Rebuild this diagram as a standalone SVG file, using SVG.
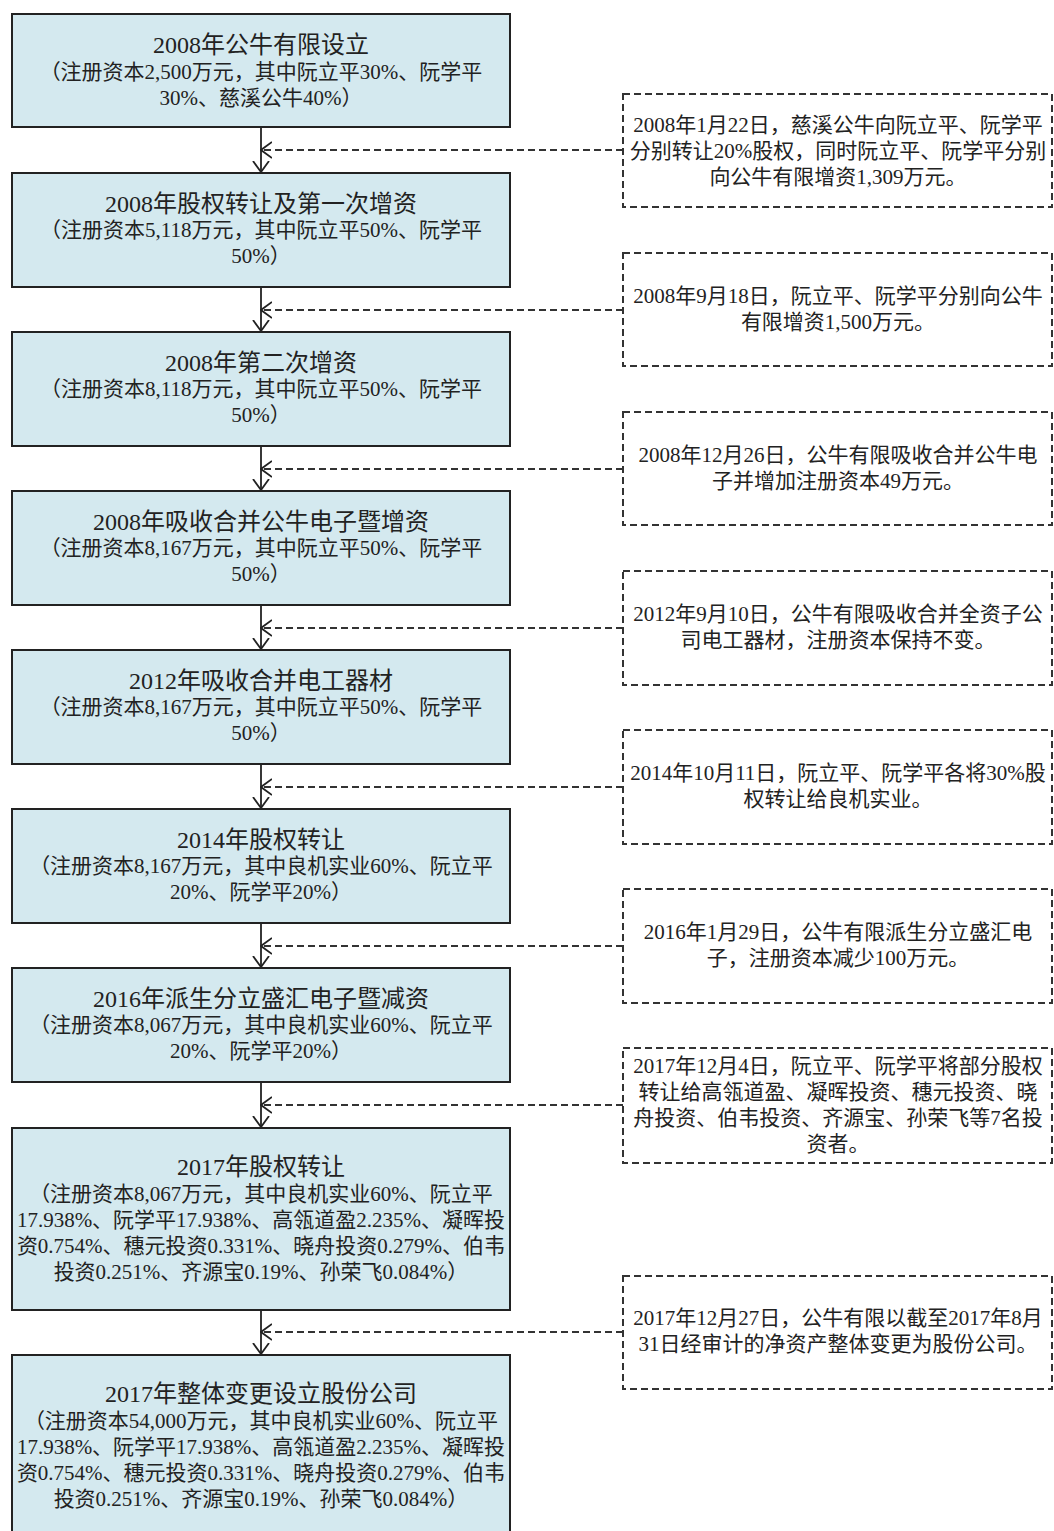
<svg xmlns="http://www.w3.org/2000/svg" width="1054" height="1531" viewBox="0 0 1054 1531">
<style>
.box{fill:#d4e9ef;stroke:#222;stroke-width:2}
.note{fill:#fff;stroke:#333;stroke-width:2;stroke-dasharray:7 4}
.t{font-family:"Liberation Serif","Noto Sans CJK SC",serif;fill:#222;text-anchor:middle}
.h{font-size:24px}
.b{font-size:21px}
.n{font-size:21px}
.v{stroke:#222;stroke-width:1.8;fill:none;marker-end:url(#ah)}
.d{stroke:#333;stroke-width:1.8;fill:none;stroke-dasharray:7 4;marker-end:url(#ah)}
</style>
<defs>
<marker id="ah" viewBox="0 0 12 18" refX="11" refY="9" markerWidth="12" markerHeight="18" markerUnits="userSpaceOnUse" orient="auto">
<path d="M0,1 L11,9 L0,17" fill="none" stroke="#222" stroke-width="1.8"/>
</marker>
</defs>
<rect width="1054" height="1531" fill="#fff"/>

<g id="connectors">
<path class="v" d="M261,127 V172"/>
<path class="v" d="M261,287 V331"/>
<path class="v" d="M261,446 V490"/>
<path class="v" d="M261,605 V649"/>
<path class="v" d="M261,764 V808"/>
<path class="v" d="M261,923 V967"/>
<path class="v" d="M261,1082 V1127"/>
<path class="v" d="M261,1310 V1354"/>
<path class="d" d="M623,150 H261"/>
<path class="d" d="M623,310 H261"/>
<path class="d" d="M623,469 H261"/>
<path class="d" d="M623,628 H261"/>
<path class="d" d="M623,787 H261"/>
<path class="d" d="M623,946 H261"/>
<path class="d" d="M623,1105 H261"/>
<path class="d" d="M623,1332 H261"/>
</g>

<g id="n1">
<rect class="box" x="12" y="14" width="498" height="113"/>
<text class="t h" x="261" y="53">2008年公牛有限设立</text>
<text class="t b" x="261" y="79">（注册资本2,500万元，其中阮立平30%、阮学平</text>
<text class="t b" x="261" y="105">30%、慈溪公牛40%）</text>
</g>
<g id="n2">
<rect class="box" x="12" y="173" width="498" height="114"/>
<text class="t h" x="261" y="212">2008年股权转让及第一次增资</text>
<text class="t b" x="261" y="237">（注册资本5,118万元，其中阮立平50%、阮学平</text>
<text class="t b" x="261" y="263">50%）</text>
</g>
<g id="n3">
<rect class="box" x="12" y="332" width="498" height="114"/>
<text class="t h" x="261" y="371">2008年第二次增资</text>
<text class="t b" x="261" y="396">（注册资本8,118万元，其中阮立平50%、阮学平</text>
<text class="t b" x="261" y="422">50%）</text>
</g>
<g id="n4">
<rect class="box" x="12" y="491" width="498" height="114"/>
<text class="t h" x="261" y="530">2008年吸收合并公牛电子暨增资</text>
<text class="t b" x="261" y="555">（注册资本8,167万元，其中阮立平50%、阮学平</text>
<text class="t b" x="261" y="581">50%）</text>
</g>
<g id="n5">
<rect class="box" x="12" y="650" width="498" height="114"/>
<text class="t h" x="261" y="689">2012年吸收合并电工器材</text>
<text class="t b" x="261" y="714">（注册资本8,167万元，其中阮立平50%、阮学平</text>
<text class="t b" x="261" y="740">50%）</text>
</g>
<g id="n6">
<rect class="box" x="12" y="809" width="498" height="114"/>
<text class="t h" x="261" y="848">2014年股权转让</text>
<text class="t b" x="261" y="873">（注册资本8,167万元，其中良机实业60%、阮立平</text>
<text class="t b" x="261" y="899">20%、阮学平20%）</text>
</g>
<g id="n7">
<rect class="box" x="12" y="968" width="498" height="114"/>
<text class="t h" x="261" y="1007">2016年派生分立盛汇电子暨减资</text>
<text class="t b" x="261" y="1032">（注册资本8,067万元，其中良机实业60%、阮立平</text>
<text class="t b" x="261" y="1058">20%、阮学平20%）</text>
</g>
<g id="n8">
<rect class="box" x="12" y="1128" width="498" height="182"/>
<text class="t h" x="261" y="1175">2017年股权转让</text>
<text class="t b" x="261" y="1201">（注册资本8,067万元，其中良机实业60%、阮立平</text>
<text class="t b" x="261" y="1227">17.938%、阮学平17.938%、高瓴道盈2.235%、凝晖投</text>
<text class="t b" x="261" y="1253">资0.754%、穗元投资0.331%、晓舟投资0.279%、伯韦</text>
<text class="t b" x="261" y="1279">投资0.251%、齐源宝0.19%、孙荣飞0.084%）</text>
</g>
<g id="n9">
<rect class="box" x="12" y="1355" width="498" height="190"/>
<text class="t h" x="261" y="1402">2017年整体变更设立股份公司</text>
<text class="t b" x="261" y="1428">（注册资本54,000万元，其中良机实业60%、阮立平</text>
<text class="t b" x="261" y="1454">17.938%、阮学平17.938%、高瓴道盈2.235%、凝晖投</text>
<text class="t b" x="261" y="1480">资0.754%、穗元投资0.331%、晓舟投资0.279%、伯韦</text>
<text class="t b" x="261" y="1506">投资0.251%、齐源宝0.19%、孙荣飞0.084%）</text>
</g>

<g id="e1">
<rect class="note" x="623" y="94" width="429" height="113"/>
<text class="t n" x="838" y="132">2008年1月22日，慈溪公牛向阮立平、阮学平</text>
<text class="t n" x="838" y="158">分别转让20%股权，同时阮立平、阮学平分别</text>
<text class="t n" x="838" y="184">向公牛有限增资1,309万元。</text>
</g>
<g id="e2">
<rect class="note" x="623" y="253" width="429" height="113"/>
<text class="t n" x="838" y="303">2008年9月18日，阮立平、阮学平分别向公牛</text>
<text class="t n" x="838" y="329">有限增资1,500万元。</text>
</g>
<g id="e3">
<rect class="note" x="623" y="412" width="429" height="113"/>
<text class="t n" x="838" y="462">2008年12月26日，公牛有限吸收合并公牛电</text>
<text class="t n" x="838" y="488">子并增加注册资本49万元。</text>
</g>
<g id="e4">
<rect class="note" x="623" y="571" width="429" height="114"/>
<text class="t n" x="838" y="621">2012年9月10日，公牛有限吸收合并全资子公</text>
<text class="t n" x="838" y="647">司电工器材，注册资本保持不变。</text>
</g>
<g id="e5">
<rect class="note" x="623" y="730" width="429" height="114"/>
<text class="t n" x="838" y="780">2014年10月11日，阮立平、阮学平各将30%股</text>
<text class="t n" x="838" y="806">权转让给良机实业。</text>
</g>
<g id="e6">
<rect class="note" x="623" y="889" width="429" height="114"/>
<text class="t n" x="838" y="939">2016年1月29日，公牛有限派生分立盛汇电</text>
<text class="t n" x="838" y="965">子，注册资本减少100万元。</text>
</g>
<g id="e7">
<rect class="note" x="623" y="1048" width="429" height="115"/>
<text class="t n" x="838" y="1073">2017年12月4日，阮立平、阮学平将部分股权</text>
<text class="t n" x="838" y="1099">转让给高瓴道盈、凝晖投资、穗元投资、晓</text>
<text class="t n" x="838" y="1125">舟投资、伯韦投资、齐源宝、孙荣飞等7名投</text>
<text class="t n" x="838" y="1151">资者。</text>
</g>
<g id="e8">
<rect class="note" x="623" y="1276" width="429" height="113"/>
<text class="t n" x="838" y="1325">2017年12月27日，公牛有限以截至2017年8月</text>
<text class="t n" x="838" y="1351">31日经审计的净资产整体变更为股份公司。</text>
</g>
</svg>
